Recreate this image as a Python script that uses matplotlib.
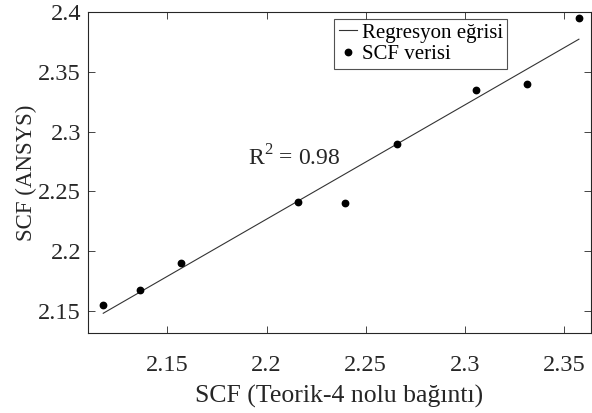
import numpy as np
import matplotlib.pyplot as plt

plt.rcParams['font.family'] = ['Liberation Serif', 'DejaVu Serif']
plt.rcParams['mathtext.fontset'] = 'custom'
plt.rcParams['mathtext.rm'] = 'Liberation Serif'

# SCF values
scf_teorik = [2.1177, 2.136, 2.157, 2.216, 2.2395, 2.2655, 2.3056, 2.331, 2.3574]
scf_ansys = [2.155, 2.168, 2.190, 2.241, 2.240, 2.2897, 2.335, 2.3394, 2.3947]

xticks = [2.15, 2.2, 2.25, 2.3, 2.35]
yticks = [2.15, 2.2, 2.25, 2.3, 2.35, 2.4]

x = np.array(scf_teorik)
y = np.array(scf_ansys)
k, b = np.polyfit(x, y, 1)
xl = np.array([x.min(), x.max()])

fig = plt.figure(figsize=(5.92, 4.13), dpi=100)
ax = fig.add_axes([0.1486, 0.1937, 0.8497, 0.7773])

axc = '#262626'
ax.plot(xl, k * xl + b, '-', color='#333333', lw=0.8, label='Regresyon eğrisi')
ax.plot(x, y, 'o', color='k', ms=4.6, label='SCF verisi', linestyle='none')

ax.set_xlim(2.11, 2.3635)
ax.set_ylim(2.1317, 2.4)
ax.set_xticks(xticks)
ax.set_xticklabels(['2.15', '2.2', '2.25', '2.3', '2.35'])
ax.set_yticks(yticks)
ax.set_yticklabels(['2.15', '2.2', '2.25', '2.3', '2.35', '2.4'])
ax.tick_params(direction='in', length=5, width=0.6, top=True, right=True,
               labelsize=17.5, color=axc, labelcolor=axc)
ax.tick_params(axis='x', pad=16)
ax.tick_params(axis='y', pad=5)
for s in ax.spines.values():
    s.set_color(axc)
    s.set_linewidth(0.8)

ax.set_xlabel('SCF (Teorik-4 nolu bağıntı)', fontsize=18.5, color=axc, labelpad=6)
ax.set_ylabel('SCF (ANSYS)', fontsize=16.5, color=axc, labelpad=1)

ax.text(2.1904, 2.2717, r'R$^2$ = 0.98', fontsize=17, color=axc, va='baseline')

leg = ax.legend(loc='upper left', bbox_to_anchor=(0.490, 0.978), fontsize=15,
                frameon=True, fancybox=False, edgecolor=axc, handlelength=0.9,
                handletextpad=0.2, borderpad=0.2, labelspacing=0.1,
                borderaxespad=0)
leg.get_frame().set_linewidth(0.8)

fig.savefig('out.png', dpi=100)
